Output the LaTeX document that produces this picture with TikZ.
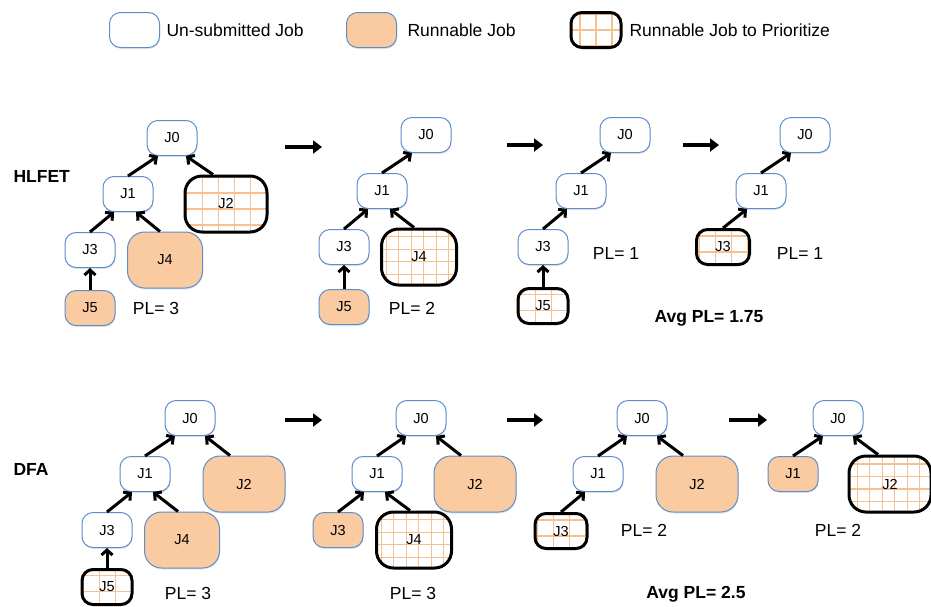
\documentclass[tikz,border=0pt]{standalone}
\usepackage{fontspec}
\setmainfont{Liberation Sans}
\usetikzlibrary{arrows.meta, positioning, shadows}

\definecolor{jobblue}{RGB}{92,142,204}
\definecolor{peach}{RGB}{250,203,160}
\definecolor{gridpeach}{RGB}{247,192,145}

\newcommand{\jobfont}{\fontsize{14.5}{17}\selectfont}
\newcommand{\plfont}{\fontsize{17.5}{20}\selectfont}

\tikzstyle{job} = [rectangle, rounded corners=11pt, draw=jobblue, line width=1pt,
fill=white, minimum width=50pt, minimum height=35pt, inner sep=0pt, font=\jobfont,
drop shadow={opacity=0.18, shadow xshift=0.6pt, shadow yshift=-1.5pt}]
\tikzstyle{runnable} = [job, fill=peach]
\tikzstyle{prio} = [job, draw=black, line width=3pt, path picture={\draw[gridpeach, line width=1.1pt]
(path picture bounding box.south west) grid[step=16pt] (path picture bounding box.north east);}]
\tikzstyle{priobig} = [job, draw=black, line width=3pt, path picture={\draw[gridpeach, line width=1.1pt]
(path picture bounding box.south west) grid[step=12.5pt] (path picture bounding box.north east);}]
\tikzstyle{big} = [minimum width=75pt, minimum height=56pt, rounded corners=17pt]
\tikzstyle{wide} = [minimum width=82pt, minimum height=56pt, rounded corners=17pt]
\tikzstyle{label} = [font=\plfont]
\tikzstyle{dep} = [draw, line width=3pt, -{Straight Barb[length=5pt, width=11pt]}]
\tikzstyle{flow} = [draw, line width=3.4pt, -{Triangle[length=9pt, width=13pt]}]

\begin{document}
\begin{tikzpicture}[x=1pt, y=-1pt, on grid]
	\useasboundingbox (0,0) rectangle (931,606);

	% Legend
	\node [job] 				(key new) 		at (134.5,30) {};
	\node [label, anchor=west] 	(key new txt) 	at (163,30) {Un-submitted Job};
	\node [runnable] 			(key run) 		at (371.5,30) {};
	\node [label, anchor=west] 	(key run txt) 	at (404,30) {Runnable Job};
	\node [prio] 				(key prio) 		at (596,30) {};
	\node [label, anchor=west] 	(key prio txt) 	at (626,30) {Runnable Job to Prioritize};

	% Row titles
	\node [label, font=\bfseries\plfont, anchor=west] (HLFET) at (10,176) {HLFET};
	\node [label, font=\bfseries\plfont, anchor=west] (DFA) 	at (10,469) {DFA};

	% HLFET, step 1
	\node [job] 											(H1-J0) at (172,138) {J0};
	\node [job, below left=56pt and 44pt of H1-J0] 			(H1-J1) {J1};
	\node [prio, wide, below right=66pt and 54pt of H1-J0] 	(H1-J2) {J2};
	\node [job, below left=56pt and 38pt of H1-J1] 			(H1-J3) {J3};
	\node [runnable, big, below right=66pt and 37pt of H1-J1] (H1-J4) {J4};
	\node [runnable, below=58pt of H1-J3] 					(H1-J5) {J5};
	\node [label] (H1-PL) at (156,308) {PL= 3};

	% HLFET, step 2
	\node [job] 											(H2-J0) at (426,135) {J0};
	\node [job, below left=56pt and 44pt of H2-J0] 			(H2-J1) {J1};
	\node [job, below left=56pt and 38pt of H2-J1] 			(H2-J3) {J3};
	\node [priobig, big, below right=66pt and 37pt of H2-J1] (H2-J4) {J4};
	\node [runnable, below=60pt of H2-J3] 					(H2-J5) {J5};
	\node [label] (H2-PL) at (412,308) {PL= 2};

	% HLFET, step 3
	\node [job] 									(H3-J0) at (625,135) {J0};
	\node [job, below left=56pt and 44pt of H3-J0] 	(H3-J1) {J1};
	\node [job, below left=56pt and 38pt of H3-J1] 	(H3-J3) {J3};
	\node [prio, below=59pt of H3-J3] 				(H3-J5) {J5};
	\node [label] (H3-PL) at (616,253) {PL= 1};

	% HLFET, step 4
	\node [job] 									(H4-J0) at (805,135) {J0};
	\node [job, below left=56pt and 44pt of H4-J0] 	(H4-J1) {J1};
	\node [prio, minimum width=53pt, below left=56pt and 38pt of H4-J1] (H4-J3) {J3};
	\node [label] (H4-PL) at (800,253) {PL= 1};
	\node [label, font=\bfseries\plfont] (H-avg) at (709,318) {Avg PL= 1.75};

	% DFA, step 1
	\node [job] 											(D1-J0) at (190,418) {J0};
	\node [job, below left=56pt and 45pt of D1-J0] 			(D1-J1) {J1};
	\node [runnable, wide, below right=66pt and 54pt of D1-J0] (D1-J2) {J2};
	\node [job, below left=56pt and 38pt of D1-J1] 			(D1-J3) {J3};
	\node [runnable, big, below right=66pt and 37pt of D1-J1] (D1-J4) {J4};
	\node [prio, below=57pt of D1-J3] 						(D1-J5) {J5};
	\node [label] (D1-PL) at (188,593) {PL= 3};

	% DFA, step 2
	\node [job] 											(D2-J0) at (421,418) {J0};
	\node [job, below left=56pt and 44pt of D2-J0] 			(D2-J1) {J1};
	\node [runnable, wide, below right=66pt and 54pt of D2-J0] (D2-J2) {J2};
	\node [runnable, below left=56pt and 39pt of D2-J1] 	(D2-J3) {J3};
	\node [priobig, big, below right=66pt and 37pt of D2-J1] (D2-J4) {J4};
	\node [label] (D2-PL) at (413,593) {PL= 3};

	% DFA, step 3
	\node [job] 											(D3-J0) at (642,418) {J0};
	\node [job, below left=56pt and 44pt of D3-J0] 			(D3-J1) {J1};
	\node [runnable, wide, below right=66pt and 55pt of D3-J0] (D3-J2) {J2};
	\node [prio, minimum width=52pt, below left=57pt and 37pt of D3-J1] (D3-J3) {J3};
	\node [label] (D3-PL) at (644,530) {PL= 2};
	\node [label, font=\bfseries\plfont] (D-avg) at (696,594) {Avg PL= 2.5};

	% DFA, step 4
	\node [job] 											(D4-J0) at (838,418) {J0};
	\node [runnable, below left=56pt and 45pt of D4-J0] 	(D4-J1) {J1};
	\node [priobig, wide, below right=66pt and 52pt of D4-J0] (D4-J2) {J2};
	\node [label] (D4-PL) at (838,530) {PL= 2};

	% Steps between trees
	\coordinate (h12 tail) at (285,147);	\coordinate (h12 head) at (322,147);
	\coordinate (h23 tail) at (507,145);	\coordinate (h23 head) at (543,145);
	\coordinate (h34 tail) at (683,145);	\coordinate (h34 head) at (719,145);
	\coordinate (d12 tail) at (285,420);	\coordinate (d12 head) at (322,420);
	\coordinate (d23 tail) at (507,420);	\coordinate (d23 head) at (543,420);
	\coordinate (d34 tail) at (729,420);	\coordinate (d34 head) at (767,420);

	%Draw edges
	\path [dep] (H1-J1.north) 				-- ([xshift=-14pt]H1-J0.south);
	\path [dep] ([xshift=-13pt]H1-J2.north) -- ([xshift=14pt]H1-J0.south);
	\path [dep] (H1-J3.north) 				-- ([xshift=-14pt]H1-J1.south);
	\path [dep] ([xshift=-5pt]H1-J4.north) 	-- ([xshift=8pt]H1-J1.south);
	\path [dep] (H1-J5) 					-- (H1-J3);

	\path [dep] (H2-J1.north) 				-- ([xshift=-14pt]H2-J0.south);
	\path [dep] (H2-J3.north) 				-- ([xshift=-14pt]H2-J1.south);
	\path [dep] ([xshift=-5pt]H2-J4.north) 	-- ([xshift=8pt]H2-J1.south);
	\path [dep] (H2-J5) 					-- (H2-J3);

	\path [dep] (H3-J1.north) 				-- ([xshift=-14pt]H3-J0.south);
	\path [dep] (H3-J3.north) 				-- ([xshift=-14pt]H3-J1.south);
	\path [dep] (H3-J5) 					-- (H3-J3);

	\path [dep] (H4-J1.north) 				-- ([xshift=-14pt]H4-J0.south);
	\path [dep] (H4-J3.north) 				-- ([xshift=-14pt]H4-J1.south);

	\path [dep] (D1-J1.north) 				-- ([xshift=-15pt]D1-J0.south);
	\path [dep] ([xshift=-14pt]D1-J2.north) -- ([xshift=15pt]D1-J0.south);
	\path [dep] (D1-J3.north) 				-- ([xshift=-13pt]D1-J1.south);
	\path [dep] ([xshift=-4pt]D1-J4.north) 	-- ([xshift=8pt]D1-J1.south);
	\path [dep] (D1-J5) 					-- (D1-J3);

	\path [dep] (D2-J1.north) 				-- ([xshift=-15pt]D2-J0.south);
	\path [dep] ([xshift=-14pt]D2-J2.north) -- ([xshift=15pt]D2-J0.south);
	\path [dep] (D2-J3.north) 				-- ([xshift=-13pt]D2-J1.south);
	\path [dep] ([xshift=-4pt]D2-J4.north) 	-- ([xshift=8pt]D2-J1.south);

	\path [dep] (D3-J1.north) 				-- ([xshift=-15pt]D3-J0.south);
	\path [dep] ([xshift=-14pt]D3-J2.north) -- ([xshift=15pt]D3-J0.south);
	\path [dep] (D3-J3.north) 				-- ([xshift=-13pt]D3-J1.south);

	\path [dep] (D4-J1.north) 				-- ([xshift=-15pt]D4-J0.south);
	\path [dep] ([xshift=-12pt]D4-J2.north) -- ([xshift=15pt]D4-J0.south);

	\path [flow] (h12 tail) -- (h12 head);
	\path [flow] (h23 tail) -- (h23 head);
	\path [flow] (h34 tail) -- (h34 head);
	\path [flow] (d12 tail) -- (d12 head);
	\path [flow] (d23 tail) -- (d23 head);
	\path [flow] (d34 tail) -- (d34 head);

\end{tikzpicture}
\end{document}
